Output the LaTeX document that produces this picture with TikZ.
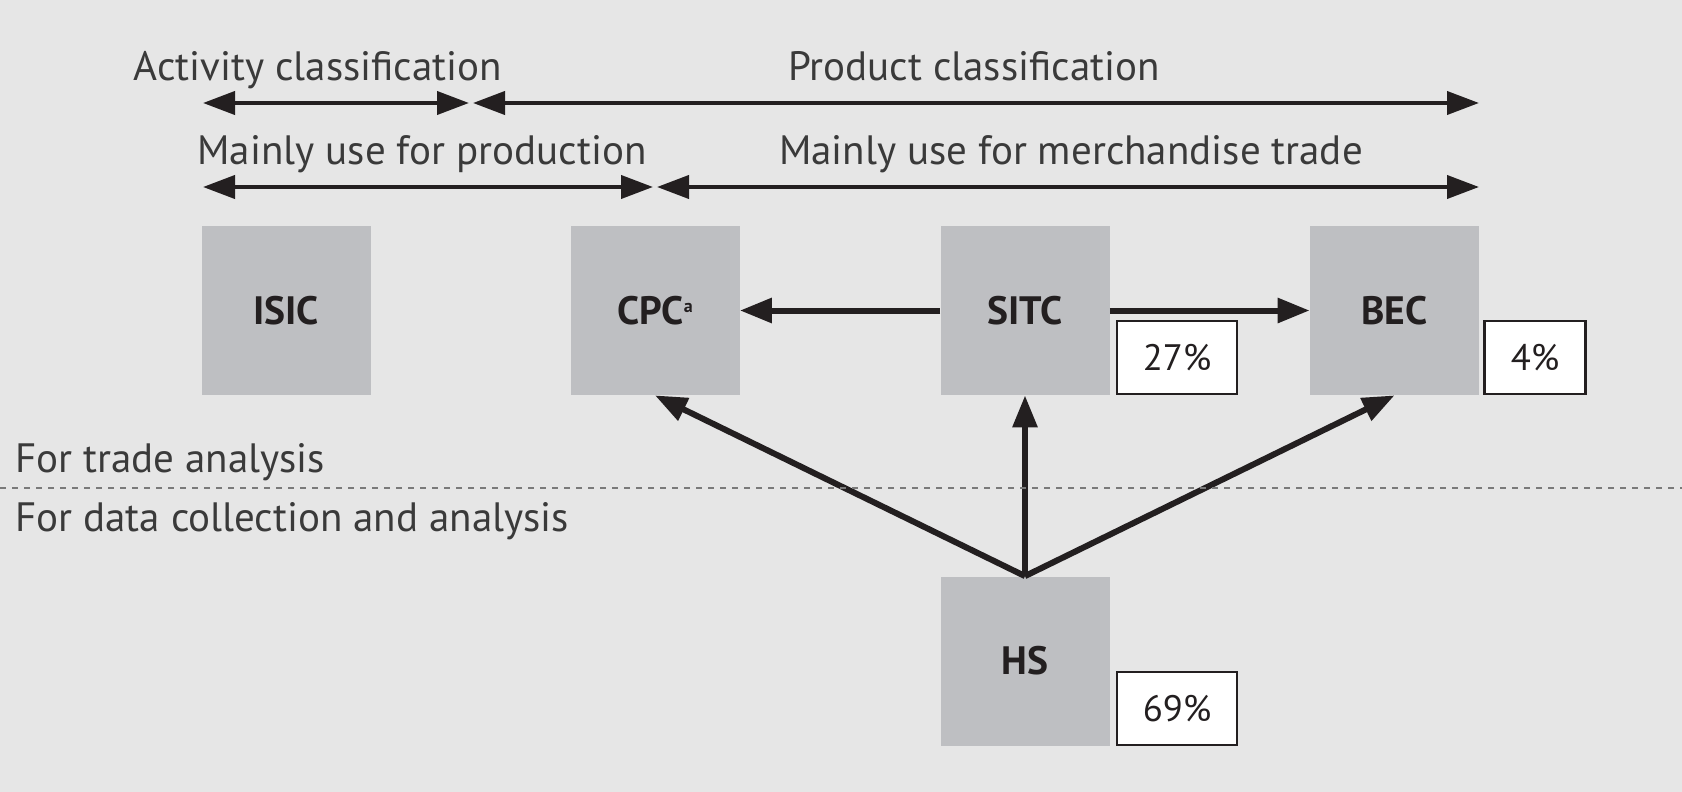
\documentclass[tikz,border=0pt]{standalone}
\usepackage{fontspec}
\setmainfont{PT Sans}
\usepackage{xcolor}
\definecolor{paneGray}{HTML}{E6E6E6}
\definecolor{boxGray}{HTML}{BEBFC2}
\definecolor{inkDark}{HTML}{231F20}
\definecolor{textGray}{HTML}{3A3A3A}
\definecolor{dotGray}{HTML}{7A7A7A}
\usepackage{tikz}
\usetikzlibrary{arrows.meta,positioning}
\tikzset{
    classbox/.style={
        fill=boxGray,
        rectangle,
        minimum width=84.5pt,
        minimum height=84.5pt,
        inner sep=0pt,
        text=inkDark,
        font=\fontsize{19.8}{22}\selectfont\bfseries
    },
    sharebox/.style={
        draw=inkDark,
        fill=white,
        rectangle,
        line width=1.2pt,
        minimum width=60pt,
        minimum height=36.5pt,
        inner sep=0pt,
        text=inkDark,
        font=\fontsize{18.4}{21}\selectfont
    },
    scalearrow/.style={
        {Triangle[length=16pt,width=11.5pt]}-{Triangle[length=16pt,width=11.5pt]},
        line width=2pt,
        color=inkDark
    },
    linkarrow/.style={
        -{Triangle[length=16pt,width=12pt]},
        line width=3pt,
        color=inkDark
    },
    scalelabel/.style={
        font=\fontsize{20.5}{24}\selectfont,
        text=textGray,
        inner sep=0pt,
        anchor=base
    },
    zonelabel/.style={
        font=\fontsize{20.5}{24}\selectfont,
        text=textGray,
        inner sep=0pt,
        anchor=base west
    }
}

\begin{document}
\begin{tikzpicture}[x=0.5pt,y=-0.5pt]
    \fill[paneGray] (0,0) rectangle (1682,792);
    \useasboundingbox (0,0) rectangle (1682,792);

    % Scales at the top
    \node[scalelabel] (actlab) at (318,81) {Activity classification};
    \node[scalelabel] (prodlab) at (974,81) {Product classification};
    \node[scalelabel] (uselab) at (422,164) {Mainly use for production};
    \node[scalelabel] (tradelab) at (1071,164) {Mainly use for merchandise trade};
    \coordinate (actL) at (203,103);
    \coordinate (actR) at (469,103);
    \coordinate (prodL) at (473,103);
    \coordinate (prodR) at (1479,103);
    \coordinate (useL) at (203,187);
    \coordinate (useR) at (653,187);
    \coordinate (tradeL) at (657,187);
    \coordinate (tradeR) at (1479,187);
    \draw[scalearrow] (actL) -- (actR);
    \draw[scalearrow] (prodL) -- (prodR);
    \draw[scalearrow] (useL) -- (useR);
    \draw[scalearrow] (tradeL) -- (tradeR);

    % Classifications
    \node[classbox] (isic) at (286,310.5) {ISIC};
    \node[classbox] (cpc) at (655,310.5) {CPC\raisebox{0.6ex}{\fontsize{9}{10}\selectfont a}};
    \node[classbox] (sitc) at (1025,310.5) {SITC};
    \node[classbox] (bec) at (1394.5,310.5) {BEC};
    \node[classbox] (hs) at (1025,661) {HS};

    % Shares
    \node[sharebox, anchor=south west] (sitcshare) at ([xshift=3pt]sitc.south east) {27\%};
    \node[sharebox, anchor=south west, minimum width=50.5pt] (becshare) at ([xshift=2pt]bec.south east) {4\%};
    \node[sharebox, anchor=south west] (hsshare) at ([xshift=3pt]hs.south east) {69\%};

    \draw[linkarrow] (sitc.west) -- (cpc.east);
    \draw[linkarrow] (sitc.east) -- (bec.west);
    \draw[linkarrow] (hs.north) -- (cpc.south);
    \draw[linkarrow] (hs.north) -- (sitc.south);
    \draw[linkarrow] (hs.north) -- (bec.south);

    % Split between the two uses
    \coordinate (splitL) at (0,488);
    \coordinate (splitR) at (1682,488);
    \draw[dotGray, line width=1pt, dash pattern=on 3pt off 3pt] (splitL) -- (splitR);
    \node[zonelabel] (tradezone) at (15,472) {For trade analysis};
    \node[zonelabel] (datazone) at (15,531) {For data collection and analysis};
\end{tikzpicture}
\end{document}
